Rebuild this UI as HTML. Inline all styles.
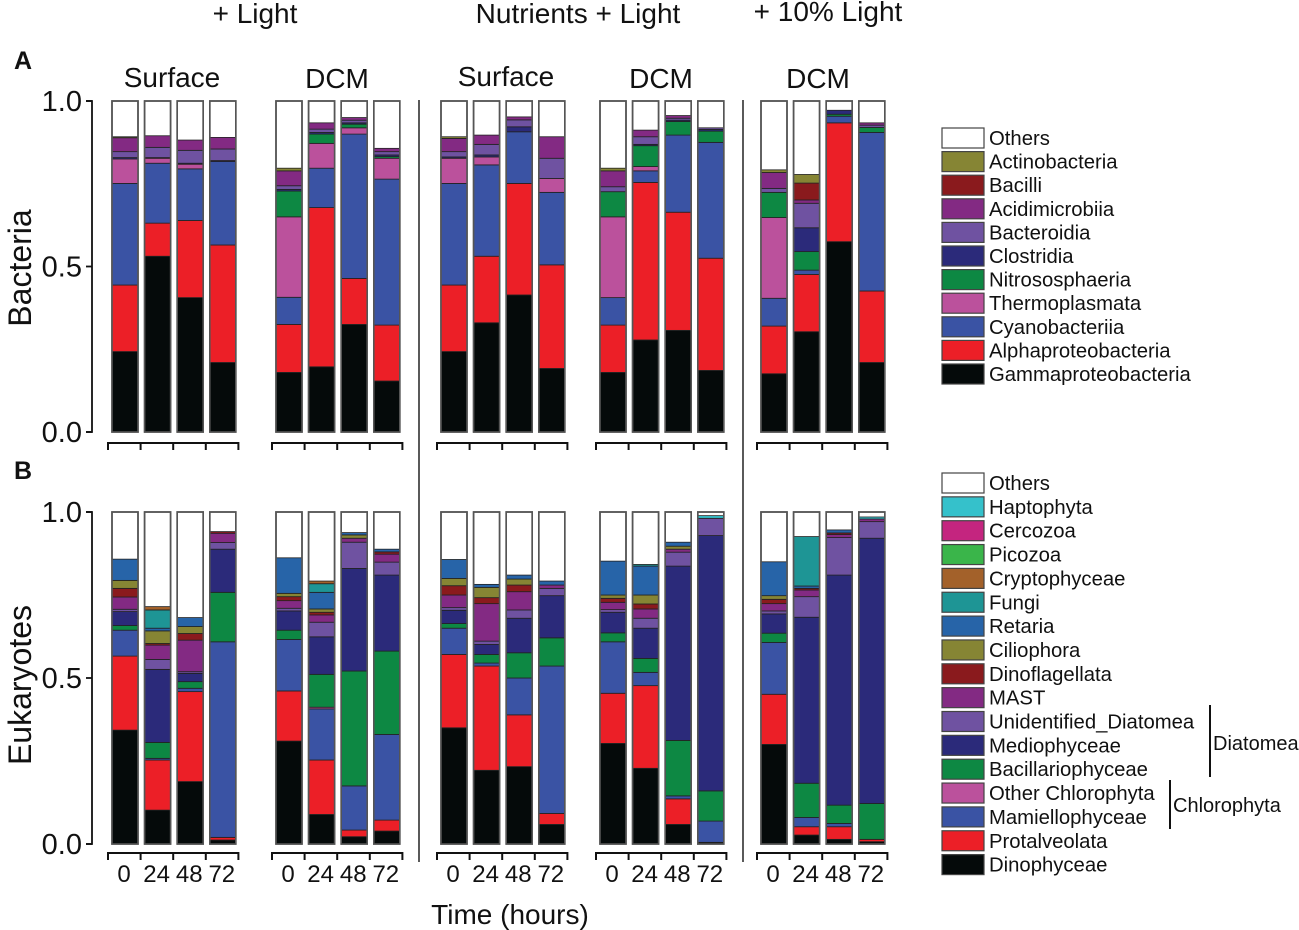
<!DOCTYPE html>
<html><head><meta charset="utf-8"><style>
html,body{margin:0;padding:0;background:#fff;}
svg{display:block;font-family:"Liberation Sans",Arial,sans-serif;}
</style></head><body>
<svg id="chart" width="1299" height="930" viewBox="0 0 1299 930" xmlns="http://www.w3.org/2000/svg">
<g id="static" fill="#111">
<text x="255" y="23" font-size="28" text-anchor="middle">+ Light</text>
<text x="578" y="23" font-size="28" text-anchor="middle">Nutrients + Light</text>
<text x="828" y="21" font-size="28" text-anchor="middle">+ 10% Light</text>
<text x="172" y="87" font-size="28" text-anchor="middle">Surface</text>
<text x="337" y="88" font-size="28" text-anchor="middle">DCM</text>
<text x="506" y="86" font-size="28" text-anchor="middle">Surface</text>
<text x="661" y="88" font-size="28" text-anchor="middle">DCM</text>
<text x="818" y="88" font-size="28" text-anchor="middle">DCM</text>
<text x="14" y="69" font-size="25" font-weight="bold">A</text>
<text x="14" y="479" font-size="25" font-weight="bold">B</text>
<text transform="translate(31,268) rotate(-90)" font-size="32" text-anchor="middle">Bacteria</text>
<text transform="translate(31,685) rotate(-90)" font-size="32" text-anchor="middle">Eukaryotes</text>
<text x="510" y="924" font-size="28" text-anchor="middle">Time (hours)</text>
<line x1="419" y1="100" x2="419" y2="862" stroke="#000" stroke-width="1.3"/>
<line x1="743" y1="100" x2="743" y2="862" stroke="#000" stroke-width="1.3"/>
<line x1="1210" y1="705" x2="1210" y2="777" stroke="#111" stroke-width="2"/>
<text x="1213" y="750" font-size="20">Diatomea</text>
<line x1="1170" y1="780" x2="1170" y2="829" stroke="#111" stroke-width="2"/>
<text x="1173" y="812" font-size="20">Chlorophyta</text>
</g>
<g id="dyn"></g>
</svg>
<script>
// Bacteria: series order bottom->top; values are cumulative tops per bar
const bacNames = ["Gammaproteobacteria","Alphaproteobacteria","Cyanobacteriia","Thermoplasmata","Nitrososphaeria","Clostridia","Bacteroidia","Acidimicrobiia","Bacilli","Actinobacteria"];
const bacColors = ["#050a0a","#ec1f27","#3a53a4","#bb519c","#0d8843","#2b2a7a","#6f52a1","#832a83","#8a1a1d","#868534"];
const bacG1 = [[.243,.444,.751,.825,.825,.829,.847,.889,.889,.892],[.531,.631,.812,.827,.827,.829,.86,.895,.895,.895],[.406,.639,.795,.809,.809,.812,.851,.882,.882,.882],[.21,.565,.817,.817,.817,.82,.855,.89,.89,.89]];
const bacG2 = [[.18,.325,.407,.65,.728,.733,.744,.789,.789,.797],[.197,.678,.797,.872,.90,.905,.915,.934,.934,.934],[.325,.464,.90,.919,.93,.934,.942,.95,.95,.95],[.154,.323,.764,.827,.832,.837,.847,.857,.857,.857]];
const bacG3 = [[.243,.444,.751,.827,.827,.831,.847,.887,.887,.892],[.33,.531,.807,.831,.831,.837,.869,.897,.897,.897],[.414,.751,.907,.907,.907,.922,.943,.952,.952,.952],[.192,.505,.724,.766,.766,.766,.827,.892,.892,.892]];
const bacG4 = [[.18,.323,.406,.65,.726,.726,.741,.789,.789,.797],[.278,.754,.789,.802,.865,.869,.892,.912,.912,.912],[.307,.664,.897,.897,.938,.942,.948,.956,.956,.956],[.186,.525,.875,.875,.909,.914,.919,.919,.919,.919]];
const bacG5 = [[.176,.32,.404,.648,.724,.724,.736,.784,.784,.792],[.303,.476,.489,.489,.545,.617,.691,.701,.752,.778],[.575,.934,.954,.954,.96,.972,.972,.972,.972,.972],[.21,.426,.905,.905,.92,.92,.927,.934,.934,.934]];
// Eukaryotes
const eukNames = ["Dinophyceae","Protalveolata","Mamiellophyceae","Other Chlorophyta","Bacillariophyceae","Mediophyceae","Unidentified_Diatomea","MAST","Dinoflagellata","Ciliophora","Retaria","Fungi","Cryptophyceae","Picozoa","Cercozoa","Haptophyta"];
const eukColors = ["#050a0a","#ec1f27","#3a53a4","#bb519c","#0d8843","#2b2a7a","#6f52a1","#832a83","#8a1a1d","#868534","#2764a8","#1e9595","#a3612a","#3ab54a","#c4257f","#35c1cb"];
const eukG1 = [[.343,.566,.644,.644,.658,.70,.707,.744,.77,.794,.858],[.102,.253,.258,.258,.306,.526,.556,.599,.604,.642,.65,.705,.715],[.188,.459,.469,.469,.489,.514,.519,.614,.634,.655,.682],[.012,.02,.609,.609,.758,.888,.908,.936,.941]];
const eukG2 = [[.31,.461,.616,.616,.644,.702,.71,.733,.745,.755,.862],[.089,.253,.407,.412,.511,.624,.668,.69,.698,.708,.758,.784,.792],[.022,.042,.175,.175,.521,.83,.909,.921,.921,.931,.938],[.039,.072,.33,.33,.581,.81,.849,.873,.88,.88,.888]];
const eukG3 = [[.35,.571,.65,.65,.664,.704,.712,.75,.778,.80,.857],[.222,.536,.545,.545,.571,.601,.611,.724,.742,.773,.782],[.233,.389,.50,.50,.576,.68,.705,.76,.78,.798,.81],[.059,.092,.536,.536,.621,.748,.77,.78,.78,.78,.792]];
const eukG4 = [[.303,.454,.609,.609,.636,.698,.706,.728,.74,.75,.852],[.228,.477,.517,.517,.559,.65,.68,.708,.723,.75,.837,.842],[.059,.136,.145,.145,.312,.837,.879,.888,.888,.897,.909],[.005,.005,.069,.069,.16,.929,.981,.981,.981,.981,.981,.981,.981,.981,.981,.989]];
const eukG5 = [[.30,.451,.607,.607,.635,.693,.702,.724,.737,.748,.85],[.027,.052,.08,.08,.183,.683,.745,.765,.77,.77,.777,.926],[.014,.052,.062,.062,.117,.81,.923,.932,.937,.937,.946],[.007,.014,.014,.014,.122,.921,.971,.979,.979,.979,.979,.979,.979,.979,.979,.985]];
const timeLabels = ["0","24","48","72"];
const yTicks = [0, 0.5, 1.0];
const yTickLabels = ["0.0","0.5","1.0"];

const NS = "http://www.w3.org/2000/svg";
const dyn = document.getElementById("dyn");
function mk(tag, attrs, parent){const e=document.createElementNS(NS,tag);for(const k in attrs)e.setAttribute(k,attrs[k]);(parent||dyn).appendChild(e);return e;}
const groupLefts=[112,276,441,600,761], pitch=32.6, bw=26;
const panels=[{y0:432,y1:101,groups:[bacG1,bacG2,bacG3,bacG4,bacG5],colors:bacColors,names:bacNames,axisY:443,lblY:0,key:"bacteria"},
              {y0:844,y1:512,groups:[eukG1,eukG2,eukG3,eukG4,eukG5],colors:eukColors,names:eukNames,axisY:853,lblY:882,key:"eukaryotes"}];
panels.forEach(p=>{
  const yv=v=>p.y0+(p.y1-p.y0)*v;
  const ax=mk("path",{d:`M86 ${yv(1)} H92 V${yv(0)} H86`,fill:"none",stroke:"#111","stroke-width":"1.8"});
  
  
  yTicks.forEach((t,i)=>{
    const tk=mk("line",{x1:86,x2:92,y1:yv(t),y2:yv(t),stroke:"#111","stroke-width":"1.8"});
    
    
    const tl=mk("text",{x:82,y:yv(t)+10,"font-size":"29","text-anchor":"end",fill:"#111"});
    tl.textContent=yTickLabels[i];
    
    
  });
  p.groups.forEach((grp,gi)=>{
    const gl=groupLefts[gi];
    const xa=mk("path",{d:`M${gl-4} ${p.axisY+7} V${p.axisY} H${gl-4+pitch*4} V${p.axisY+7}`+[1,2,3].map(k=>` M${gl-4+pitch*k} ${p.axisY} V${p.axisY+7}`).join(""),fill:"none",stroke:"#111","stroke-width":"2"});
    
    
    grp.forEach((tops,bi)=>{
      const x=gl+pitch*bi;
      const g=mk("g",{});
      
      
      let prev=0;
      const o=mk("rect",{x:x,y:yv(1),width:bw,height:yv(0)-yv(1),fill:"#fff",stroke:"#555","stroke-width":"1.6"},g);
      
      
      tops.forEach((t,si)=>{
        if(t-prev>0.0005){
          const r=mk("rect",{x:x,y:yv(t),width:bw,height:yv(prev)-yv(t),fill:p.colors[si],stroke:"#222","stroke-width":"0.8"},g);
          
          
        }
        prev=Math.max(prev,t);
      });
      const ol=mk("rect",{x:x,y:yv(1),width:bw,height:yv(0)-yv(1),fill:"none",stroke:"#555","stroke-width":"1.6"},g);
      
      
      if(p.lblY){
        const lb=mk("text",{x:x+bw/2-1,y:p.lblY,"font-size":"24","text-anchor":"middle",fill:"#111"});
        lb.textContent=timeLabels[bi];
        
        
      }
    });
  });
});
function legend(names,colors,yTop,step){
  const list=["Others"].concat(names.slice().reverse());
  const cols=["#ffffff"].concat(colors.slice().reverse());
  list.forEach((n,i)=>{
    const cy=yTop+step*i;
    const r=mk("rect",{x:942,y:cy-10,width:42,height:20,fill:cols[i],stroke:"#444","stroke-width":"1.2"});
    
    
    const t=mk("text",{x:989,y:cy+7,"font-size":"20.3",fill:"#111"});
    t.textContent=n;
    
    
  });
}
legend(bacNames,bacColors,138,23.6);
legend(eukNames,eukColors,483,23.85);
</script>
</body></html>
